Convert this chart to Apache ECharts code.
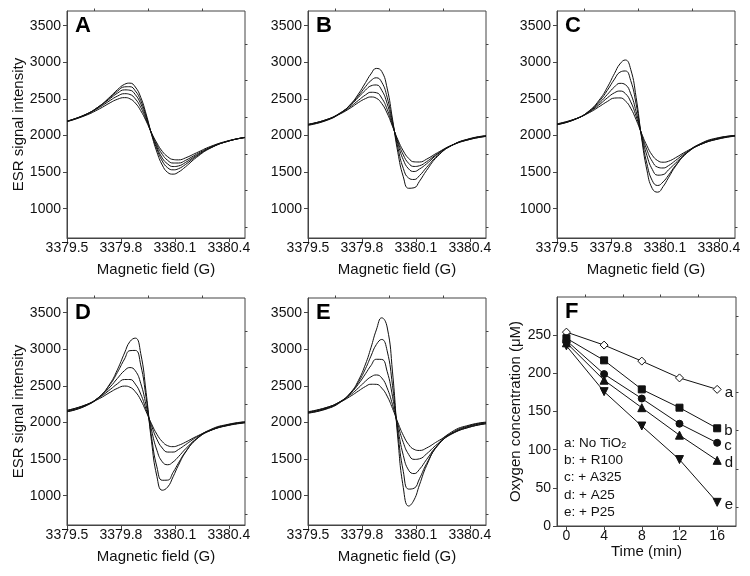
<!DOCTYPE html>
<html>
<head>
<meta charset="utf-8">
<script src="https://cdn.jsdelivr.net/npm/echarts@6/dist/echarts.min.js"></script>
<style>
html, body { margin: 0; padding: 0; background: #fff; }
#main { width: 750px; height: 576px; }
</style>
</head>
<body>
<div id="main"></div>
<script>
// magnetic field sample points (G), shared by all ESR panels
var field = [3379.50, 3379.60, 3379.68, 3379.74, 3379.78, 3379.82, 3379.85, 3379.88, 3379.91, 3379.94, 3379.97,
             3380.00, 3380.03, 3380.06, 3380.09, 3380.12, 3380.16, 3380.22, 3380.30, 3380.40, 3380.49];

// panel A
var specA1 = [2189, 2277, 2400, 2529, 2624, 2699, 2715, 2662, 2522, 2293, 2017, 1774, 1596, 1495, 1472, 1500, 1574, 1700, 1830, 1925, 1974];
var specA2 = [2194, 2282, 2400, 2519, 2603, 2664, 2666, 2609, 2477, 2268, 2023, 1815, 1651, 1559, 1531, 1546, 1606, 1715, 1834, 1926, 1974];
var specA3 = [2196, 2284, 2396, 2505, 2577, 2623, 2618, 2558, 2433, 2245, 2028, 1843, 1691, 1611, 1576, 1584, 1633, 1727, 1836, 1925, 1971];
var specA4 = [2195, 2279, 2383, 2479, 2537, 2571, 2560, 2500, 2385, 2220, 2032, 1871, 1742, 1660, 1624, 1624, 1661, 1743, 1843, 1926, 1972];
var specA5 = [2192, 2270, 2363, 2447, 2494, 2517, 2501, 2443, 2339, 2198, 2036, 1897, 1783, 1710, 1672, 1667, 1695, 1763, 1852, 1930, 1973];
// panel B
var specB1 = [2139, 2202, 2303, 2436, 2565, 2722, 2840, 2916, 2875, 2647, 2223, 1765, 1436, 1279, 1286, 1375, 1525, 1713, 1865, 1958, 1997];
var specB2 = [2143, 2208, 2306, 2428, 2540, 2667, 2749, 2788, 2728, 2524, 2188, 1831, 1551, 1418, 1399, 1452, 1565, 1724, 1864, 1953, 1995];
var specB3 = [2149, 2214, 2310, 2423, 2521, 2620, 2678, 2690, 2618, 2438, 2162, 1884, 1668, 1543, 1508, 1542, 1614, 1743, 1867, 1953, 1993];
var specB4 = [2150, 2213, 2302, 2401, 2479, 2554, 2590, 2584, 2511, 2359, 2140, 1916, 1735, 1619, 1577, 1587, 1643, 1751, 1866, 1947, 1989];
var specB5 = [2153, 2213, 2296, 2382, 2449, 2504, 2526, 2509, 2437, 2306, 2125, 1941, 1789, 1687, 1640, 1638, 1677, 1765, 1866, 1946, 1987];
// panel C
var specC1 = [2147, 2219, 2339, 2501, 2658, 2848, 2977, 3031, 2903, 2521, 1976, 1528, 1275, 1226, 1302, 1423, 1582, 1758, 1892, 1971, 1996];
var specC2 = [2149, 2220, 2334, 2481, 2617, 2770, 2864, 2881, 2750, 2430, 1992, 1616, 1383, 1317, 1366, 1457, 1593, 1755, 1885, 1966, 2001];
var specC3 = [2151, 2223, 2327, 2454, 2560, 2664, 2712, 2694, 2570, 2326, 2010, 1727, 1537, 1458, 1466, 1531, 1624, 1759, 1879, 1960, 1997];
var specC4 = [2155, 2224, 2322, 2430, 2514, 2584, 2607, 2573, 2460, 2264, 2021, 1804, 1646, 1567, 1556, 1588, 1660, 1771, 1879, 1956, 1995];
var specC5 = [2159, 2225, 2312, 2402, 2464, 2511, 2513, 2473, 2373, 2216, 2030, 1861, 1730, 1657, 1635, 1648, 1697, 1784, 1880, 1953, 1991];
// panel D
var specD1 = [2146, 2221, 2352, 2533, 2719, 2949, 3105, 3152, 2943, 2411, 1744, 1263, 1075, 1118, 1258, 1417, 1596, 1776, 1906, 1977, 2010];
var specD2 = [2148, 2225, 2351, 2520, 2682, 2867, 2981, 2984, 2786, 2339, 1804, 1393, 1211, 1213, 1318, 1446, 1602, 1771, 1897, 1972, 2007];
var specD3 = [2155, 2231, 2347, 2486, 2601, 2709, 2750, 2706, 2535, 2236, 1897, 1621, 1463, 1423, 1461, 1533, 1641, 1777, 1892, 1967, 2001];
var specD4 = [2164, 2237, 2341, 2450, 2528, 2587, 2587, 2524, 2388, 2178, 1956, 1771, 1651, 1596, 1596, 1631, 1698, 1798, 1894, 1964, 1999];
var specD5 = [2166, 2236, 2326, 2413, 2466, 2497, 2482, 2420, 2308, 2148, 1982, 1839, 1739, 1683, 1670, 1688, 1732, 1810, 1895, 1961, 1994];
// panel E
var specE1 = [2127, 2182, 2275, 2416, 2572, 2798, 3020, 3264, 3429, 3304, 2690, 1774, 1112, 859, 943, 1148, 1414, 1688, 1872, 1966, 2005];
var specE2 = [2130, 2187, 2282, 2412, 2549, 2736, 2906, 3064, 3134, 2980, 2505, 1852, 1332, 1090, 1102, 1232, 1440, 1679, 1857, 1957, 2000];
var specE3 = [2136, 2194, 2287, 2407, 2523, 2666, 2777, 2863, 2861, 2699, 2357, 1920, 1551, 1347, 1302, 1360, 1496, 1687, 1849, 1949, 1992];
var specE4 = [2141, 2201, 2285, 2386, 2471, 2565, 2623, 2649, 2609, 2472, 2245, 1970, 1726, 1563, 1496, 1504, 1573, 1706, 1843, 1938, 1985];
var specE5 = [2147, 2203, 2280, 2364, 2429, 2492, 2522, 2521, 2470, 2360, 2192, 1998, 1825, 1699, 1633, 1618, 1652, 1742, 1851, 1938, 1982];

// panel F: oxygen concentration (uM) vs time (min)
var time = [0, 4, 8, 12, 16];
var oxyA = [254, 237, 216, 194, 179];
var oxyB = [246, 217, 179, 155, 128];
var oxyC = [243, 199, 167, 134, 109];
var oxyD = [240, 191, 155, 119, 86];
var oxyE = [236, 176, 131, 87, 31];
var oxyNames = ['a: No TiO{s|2}', 'b: + R100', 'c: + A325', 'd: + A25', 'e: + P25'];

var fieldLabels = [3379.5, 3379.8, 3380.1, 3380.4];
var fieldMinor = [3379.65, 3379.95, 3380.25];
var esrLabels = [1000, 1500, 2000, 2500, 3000, 3500];
var esrMinor = [750, 1250, 1750, 2250, 2750, 3250];
var timeLabels = [0, 4, 8, 12, 16];
var timeMinor = [2, 6, 10, 14];
var oxyLabels = [0, 50, 100, 150, 200, 250];
var oxyMinor = [25, 75, 125, 175, 225, 275];

var FONT = 'Liberation Sans, Arial, Helvetica, sans-serif';
var INK = '#111';
var FRAME = '#444';

var esrPanels = [
  {key: 'A', left: 67, top: 11, yName: true, curves: [specA1, specA2, specA3, specA4, specA5]},
  {key: 'B', left: 308, top: 11, yName: false, curves: [specB1, specB2, specB3, specB4, specB5]},
  {key: 'C', left: 557, top: 11, yName: false, curves: [specC1, specC2, specC3, specC4, specC5]},
  {key: 'D', left: 67, top: 298, yName: true, curves: [specD1, specD2, specD3, specD4, specD5]},
  {key: 'E', left: 308, top: 298, yName: false, curves: [specE1, specE2, specE3, specE4, specE5]}
];

var grids = [], xAxes = [], yAxes = [], series = [], graphics = [];

function addAxes(gi, x, y) {
  xAxes.push({
    gridIndex: gi, type: 'value', min: x.min, max: x.max,
    name: x.name, nameLocation: 'middle', nameGap: x.nameGap,
    nameTextStyle: {fontSize: 15, color: INK, fontFamily: FONT},
    axisLine: {onZero: false, lineStyle: {color: FRAME}},
    axisTick: {customValues: x.ticks, length: 4, lineStyle: {color: FRAME}},
    axisLabel: {customValues: x.ticks, formatter: x.fmt, fontSize: 14, color: INK, fontFamily: FONT, margin: x.margin},
    splitLine: {show: false}
  });
  xAxes.push({
    gridIndex: gi, type: 'value', min: x.min, max: x.max,
    axisLine: {show: false, onZero: false}, axisLabel: {show: false}, splitLine: {show: false},
    axisTick: {customValues: x.minor, length: 2.5, lineStyle: {color: FRAME}}
  });
  yAxes.push({
    gridIndex: gi, type: 'value', min: y.min, max: y.max,
    name: y.name, nameLocation: 'middle', nameGap: y.nameGap,
    nameTextStyle: {fontSize: 15, color: INK, fontFamily: FONT},
    axisLine: {show: true, onZero: false, lineStyle: {color: FRAME}},
    axisTick: {show: true, customValues: y.ticks, length: 4, lineStyle: {color: FRAME}},
    axisLabel: {customValues: y.ticks, formatter: function (v) { return String(v); },
                fontSize: 14, color: INK, fontFamily: FONT, margin: 6},
    splitLine: {show: false}
  });
  yAxes.push({
    gridIndex: gi, type: 'value', min: y.min, max: y.max,
    axisLine: {show: false, onZero: false}, axisLabel: {show: false}, splitLine: {show: false},
    axisTick: {show: true, customValues: y.minor, length: 2.5, lineStyle: {color: FRAME}}
  });
}

function panelLetter(key, left, top) {
  graphics.push({
    type: 'text', x: left + 8, y: top + 4,
    style: {text: key, font: 'bold 22px ' + FONT, fill: '#000', align: 'left', verticalAlign: 'top'}
  });
}

esrPanels.forEach(function (p, gi) {
  grids.push({left: p.left, top: p.top, width: 178, height: 227, show: true, borderColor: FRAME, borderWidth: 1});
  addAxes(gi,
    {min: 3379.5, max: 3380.49, name: 'Magnetic field (G)', nameGap: 24, ticks: fieldLabels, minor: fieldMinor, margin: 3,
     fmt: function (v) { return v.toFixed(1); }},
    {min: 600, max: 3700, name: p.yName ? 'ESR signal intensity' : '', nameGap: 40, ticks: esrLabels, minor: esrMinor});
  p.curves.forEach(function (c) {
    series.push({
      type: 'line', xAxisIndex: gi * 2, yAxisIndex: gi * 2,
      data: field.map(function (x, i) { return [x, c[i]]; }),
      smooth: 0.5, showSymbol: false, silent: true,
      lineStyle: {color: INK, width: 1}
    });
  });
  panelLetter(p.key, p.left, p.top);
});

// panel F
var fi = esrPanels.length;
grids.push({left: 557, top: 297, width: 179, height: 229, show: true, borderColor: FRAME, borderWidth: 1});
addAxes(fi,
  {min: -1, max: 18, name: 'Time (min)', nameGap: 14, ticks: timeLabels, minor: timeMinor, margin: 3,
   fmt: function (v) { return String(v); }},
  {min: 0, max: 300, name: 'Oxygen concentration (\u03bcM)', nameGap: 30, ticks: oxyLabels, minor: oxyMinor});
panelLetter('F', 557, 297);

var oxySets = [
  {id: 'a', vals: oxyA, symbol: 'diamond', size: 8, fill: '#fff', rotate: 0},
  {id: 'b', vals: oxyB, symbol: 'rect', size: 7, fill: INK, rotate: 0},
  {id: 'c', vals: oxyC, symbol: 'circle', size: 7, fill: INK, rotate: 0},
  {id: 'd', vals: oxyD, symbol: 'triangle', size: 8, fill: INK, rotate: 0},
  {id: 'e', vals: oxyE, symbol: 'triangle', size: 8, fill: INK, rotate: 180}
];
oxySets.forEach(function (s) {
  series.push({
    type: 'line', xAxisIndex: fi * 2, yAxisIndex: fi * 2, z: 3,
    data: time.map(function (t, i) {
      var d = {value: [t, s.vals[i]]};
      if (i === time.length - 1) {
        d.label = {show: true, position: 'right', distance: 3, offset: [0, 3], formatter: s.id,
                   fontSize: 15, color: INK, fontFamily: FONT};
      }
      return d;
    }),
    symbol: s.symbol, symbolSize: s.size, symbolRotate: s.rotate, showAllSymbol: true,
    itemStyle: {color: s.fill, borderColor: INK, borderWidth: 1},
    lineStyle: {color: INK, width: 1}, silent: true
  });
});

oxyNames.forEach(function (n, i) {
  graphics.push({
    type: 'text', x: 564, y: 443 + i * 17.3,
    style: {text: n, font: '13.5px ' + FONT, fill: INK, align: 'left', verticalAlign: 'middle',
            rich: {s: {fontSize: 9, fontFamily: FONT, padding: [6, 0, 0, 0]}}}
  });
});

var chart = echarts.init(document.getElementById('main'), null, {renderer: 'canvas'});
chart.setOption({
  animation: false,
  backgroundColor: '#fff',
  textStyle: {fontFamily: FONT},
  grid: grids,
  xAxis: xAxes,
  yAxis: yAxes,
  series: series,
  graphic: graphics
});
</script>
</body>
</html>
